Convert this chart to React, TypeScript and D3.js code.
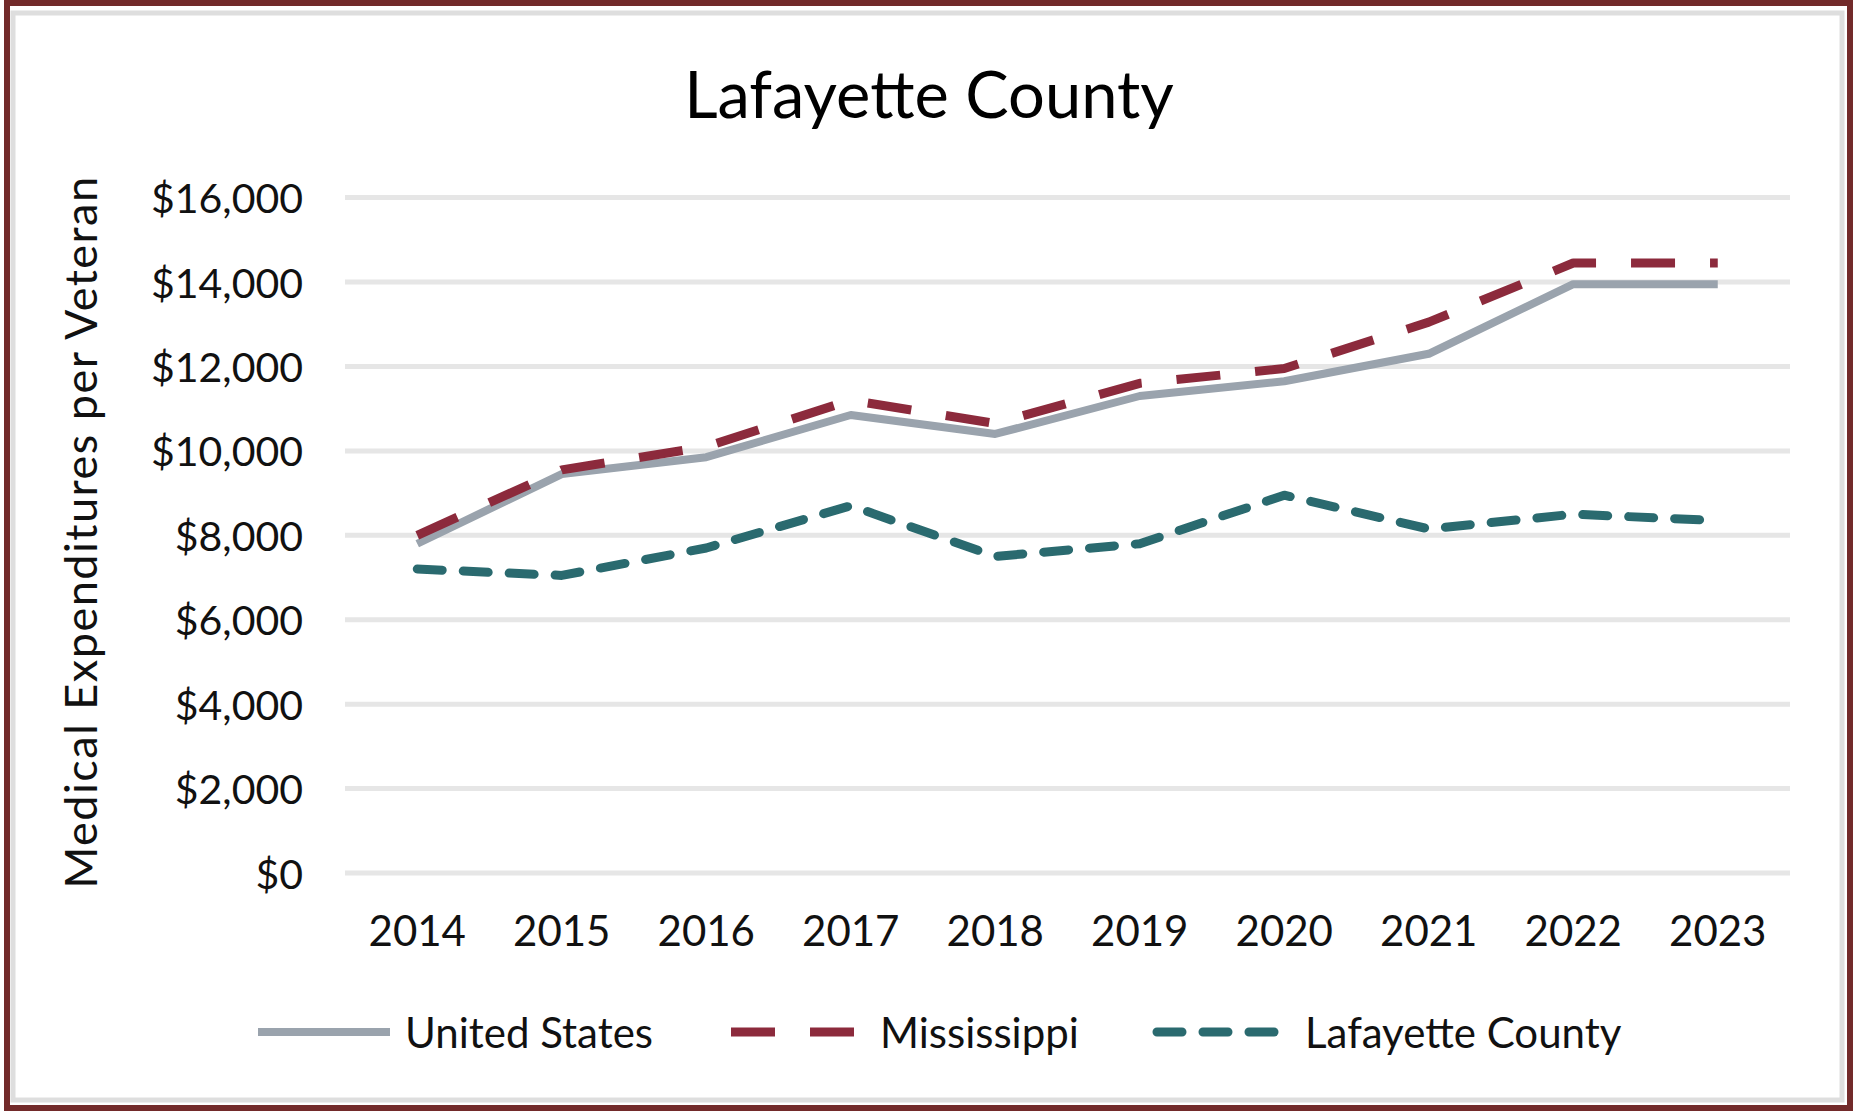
import React from "react";
import * as d3 from "d3";

const years = ["2014", "2015", "2016", "2017", "2018", "2019", "2020", "2021", "2022", "2023"];
const unitedStates = [7800, 9450, 9850, 10850, 10400, 11300, 11650, 12300, 13950, 13950];
const mississippi = [8000, 9550, 10100, 11200, 10650, 11600, 11950, 13050, 14450, 14450];
const lafayette = [7200, 7050, 7700, 8700, 7500, 7800, 8950, 8150, 8500, 8350];
const yTicks = [0, 2000, 4000, 6000, 8000, 10000, 12000, 14000, 16000];
const seriesNames = ["United States", "Mississippi", "Lafayette County"];
const title = "Lafayette County";
const yTitle = "Medical Expenditures per Veteran";

const W = 1855;
const H = 1111;
const FONT = "Lato, Carlito, Calibri, 'Noto Sans', sans-serif";

const styles = [
  { color: "#9AA3AD", width: 8, dash: "none", cap: "butt" },
  { color: "#8C2A3C", width: 9, dash: "44 35", cap: "butt" },
  { color: "#2A6A6F", width: 9, dash: "25 21", cap: "round" },
];

export default function App() {
  const x = d3.scaleBand<string>().domain(years).range([345, 1790]);
  const y = d3.scaleLinear().domain([0, 16000]).range([873, 197.6]);
  const cx = (d: string) => (x(d) as number) + x.bandwidth() / 2;
  const line = d3
    .line<number>()
    .x((_, i) => cx(years[i]))
    .y((v) => y(v));
  const fmt = (v: number) => "$" + d3.format(",")(v);
  const data = [unitedStates, mississippi, lafayette];
  const legendX = [
    { x1: 258, x2: 390, tx: 405 },
    { x1: 731, x2: 854, tx: 880 },
    { x1: 1157, x2: 1278, tx: 1305 },
  ];

  return (
    <svg
      width={W}
      height={H}
      style={{ position: "absolute", left: 0, top: 0, background: "#fff" }}
      fontFamily={FONT}
    >
      <rect x={0} y={0} width={W} height={H} fill="#fff" />
      <rect x={13} y={13} width={W - 26} height={H - 24} fill="none" stroke="#dedede" strokeWidth={5} />
      <rect x={7} y={3} width={W - 12} height={H - 6} fill="none" stroke="#722A2A" strokeWidth={6} />

      <text x={929} y={118} textAnchor="middle" fontSize={65} fill="#000">
        {title}
      </text>

      {yTicks.map((t) => (
        <g key={t}>
          <line x1={345} x2={1790} y1={y(t)} y2={y(t)} stroke="#e6e6e6" strokeWidth={5} />
          <text x={303} y={y(t)} textAnchor="end" dominantBaseline="central" fontSize={41} fill="#111">
            {fmt(t)}
          </text>
        </g>
      ))}

      {years.map((yr) => (
        <text key={yr} x={cx(yr)} y={946} textAnchor="middle" fontSize={42} fill="#111">
          {yr}
        </text>
      ))}

      <text
        transform={`translate(80,532) rotate(-90)`}
        textAnchor="middle"
        dominantBaseline="central"
        fontSize={45}
        letterSpacing={1.5}
        fill="#111"
      >
        {yTitle}
      </text>

      {data.map((vals, i) => (
        <path
          key={i}
          d={line(vals) as string}
          fill="none"
          stroke={styles[i].color}
          strokeWidth={styles[i].width}
          strokeDasharray={styles[i].dash}
          strokeLinecap={styles[i].cap as any}
          strokeLinejoin="round"
        />
      ))}

      {seriesNames.map((name, i) => (
        <g key={name}>
          <line
            x1={legendX[i].x1}
            x2={legendX[i].x2}
            y1={1032}
            y2={1032}
            stroke={styles[i].color}
            strokeWidth={styles[i].width}
            strokeDasharray={styles[i].dash}
            strokeLinecap={styles[i].cap as any}
          />
          <text x={legendX[i].tx} y={1032} dominantBaseline="central" fontSize={42} fill="#111">
            {name}
          </text>
        </g>
      ))}
    </svg>
  );
}
